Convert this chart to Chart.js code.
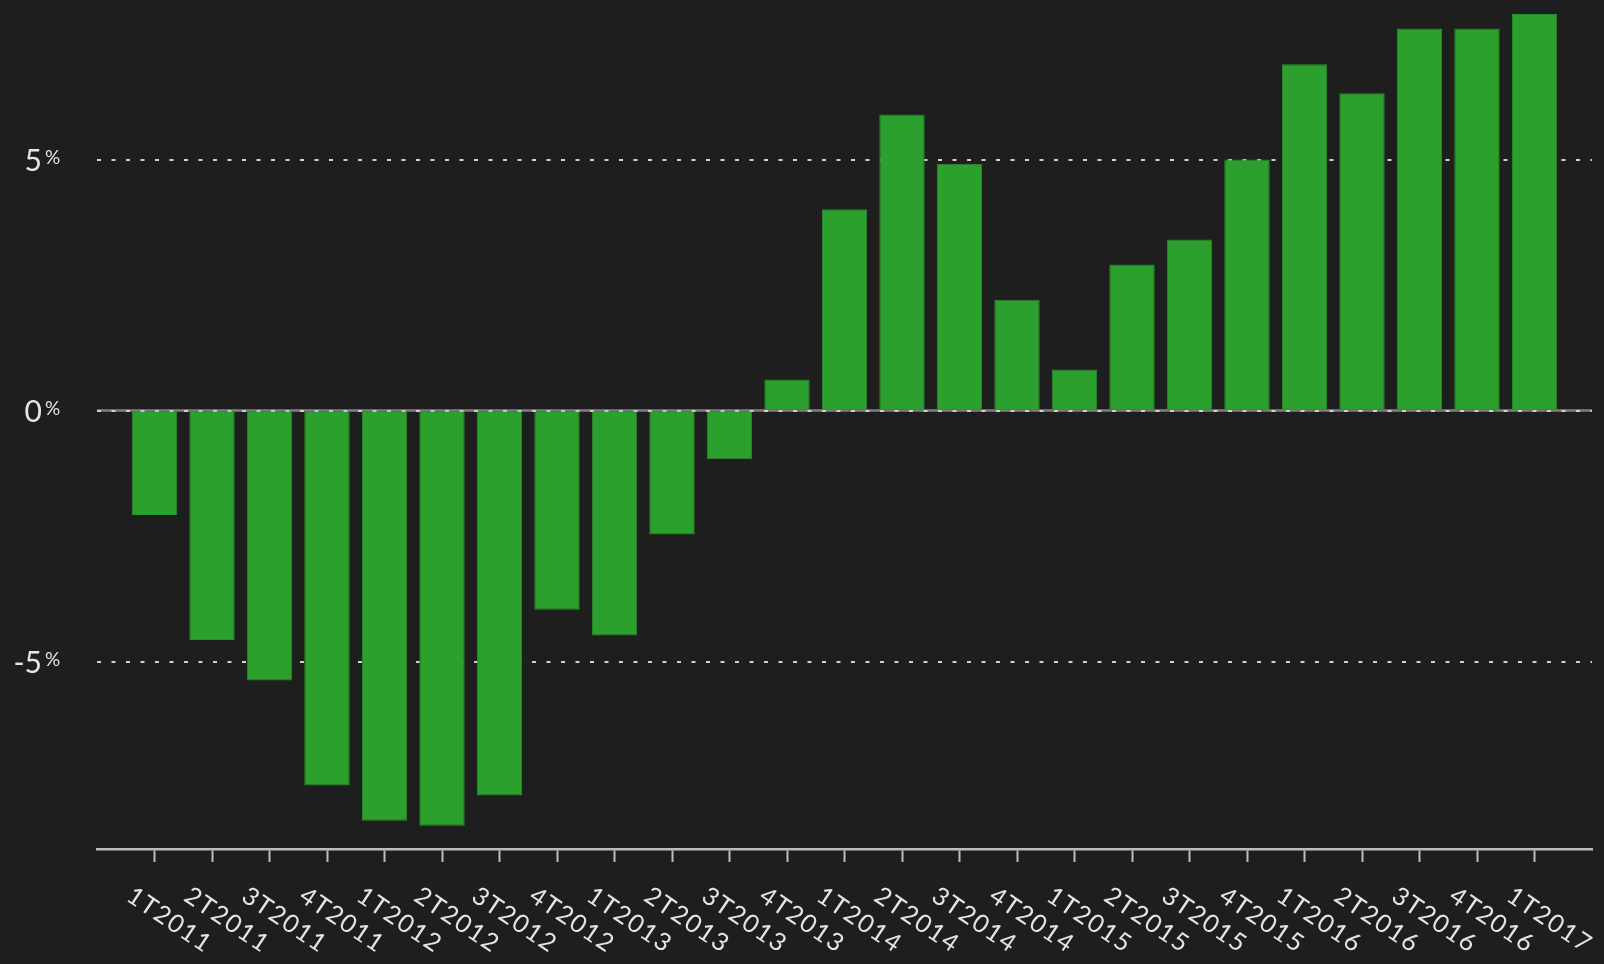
<!DOCTYPE html>
<html>
<head>
<meta charset="utf-8">
<script src="https://cdn.jsdelivr.net/npm/chart.js@4/dist/chart.umd.min.js"></script>
<style>
  html, body { margin: 0; padding: 0; background: #1e1e1e; }
  #wrap { width: 1604px; height: 964px; }
  canvas { display: block; }
</style>
</head>
<body>
<div id="wrap"><canvas id="c" width="1604" height="964"></canvas></div>
<script>
// Quarterly year-over-year change, in percent
const quarters = [
  '1T2011', '2T2011', '3T2011', '4T2011',
  '1T2012', '2T2012', '3T2012', '4T2012',
  '1T2013', '2T2013', '3T2013', '4T2013',
  '1T2014', '2T2014', '3T2014', '4T2014',
  '1T2015', '2T2015', '3T2015', '4T2015',
  '1T2016', '2T2016', '3T2016', '4T2016',
  '1T2017'
];
const growth = [
  -2.08, -4.57, -5.38, -7.47,
  -8.17, -8.27, -7.67, -3.97,
  -4.48, -2.47, -0.97, 0.62,
  4.01, 5.90, 4.92, 2.21,
  0.82, 2.91, 3.41, 5.00,
  6.90, 6.32, 7.61, 7.61,
  7.90
];
const yTickValues = [-5, 0, 5];
const yMin = -8.735;
const yMax = 8.18;

// One empty slot at each end leaves a full category of space before the first and after the last bar
const slotLabels = ['', ...quarters, ''];
const slotValues = [null, ...growth, null];

const TEXT = '#e4e4e4';
const AXIS = '#bdbdbd';
const FONT = 'Lato, "Open Sans", sans-serif';

const zeroLine = {
  id: 'zeroLine',
  beforeDraw(chart) {
    const { ctx, chartArea } = chart;
    const y = chart.scales.y.getPixelForValue(0);
    ctx.save();
    ctx.strokeStyle = '#7f7f7f';
    ctx.lineWidth = 2.5;
    ctx.beginPath();
    ctx.moveTo(chartArea.left, y);
    ctx.lineTo(chartArea.right, y);
    ctx.stroke();
    ctx.restore();
  }
};

const axisText = {
  id: 'axisText',
  afterDraw(chart) {
    const { ctx, chartArea } = chart;
    const xs = chart.scales.x, ys = chart.scales.y;
    ctx.save();
    ctx.fillStyle = TEXT;

    // slanted quarter labels under the axis
    ctx.font = '25px ' + FONT;
    if ('letterSpacing' in ctx) ctx.letterSpacing = '1.5px';
    ctx.textAlign = 'center';
    ctx.textBaseline = 'middle';
    quarters.forEach((q, i) => {
      const x = xs.getPixelForValue(i + 1);
      ctx.save();
      ctx.translate(x + 15, chartArea.bottom + 71);
      ctx.rotate(34 * Math.PI / 180);
      ctx.fillText(q, 0, 0);
      ctx.restore();
    });
    if ('letterSpacing' in ctx) ctx.letterSpacing = '0px';

    // percent labels: number plus a smaller raised % sign
    yTickValues.forEach(v => {
      const y = ys.getPixelForValue(v);
      ctx.textBaseline = 'alphabetic';
      ctx.font = '30px ' + FONT;
      ctx.textAlign = 'right';
      ctx.fillText(String(v), 42, y + 11);
      ctx.font = '19px ' + FONT;
      ctx.textAlign = 'left';
      ctx.fillText('%', 45, y + 4);
    });
    ctx.restore();
  }
};

new Chart(document.getElementById('c'), {
  type: 'bar',
  data: {
    labels: slotLabels,
    datasets: [{
      data: slotValues,
      backgroundColor: '#2ca02c',
      borderColor: '#27902a',
      borderWidth: 1,
      barPercentage: 0.79,
      categoryPercentage: 1.0
    }]
  },
  options: {
    responsive: false,
    animation: false,
    devicePixelRatio: 1,
    layout: { padding: { left: 97, right: 12, top: 0, bottom: 102 } },
    plugins: { legend: { display: false }, tooltip: { enabled: false } },
    scales: {
      x: {
        type: 'category',
        offset: false,
        grid: {
          display: true,
          offset: false,
          drawOnChartArea: false,
          drawTicks: true,
          tickLength: 13,
          tickWidth: 2,
          tickColor: c => (c.index === 0 || c.index === slotLabels.length - 1) ? 'rgba(0,0,0,0)' : AXIS
        },
        border: { display: true, color: AXIS, width: 2.5 },
        ticks: { display: false }
      },
      y: {
        type: 'linear',
        min: yMin,
        max: yMax,
        afterBuildTicks: s => { s.ticks = yTickValues.map(v => ({ value: v })); },
        grid: { color: '#d0d0d0', lineWidth: 2, drawTicks: false },
        border: { display: false, dash: [4, 10.5] },
        ticks: { display: false }
      }
    }
  },
  plugins: [zeroLine, axisText]
});
</script>
</body>
</html>
